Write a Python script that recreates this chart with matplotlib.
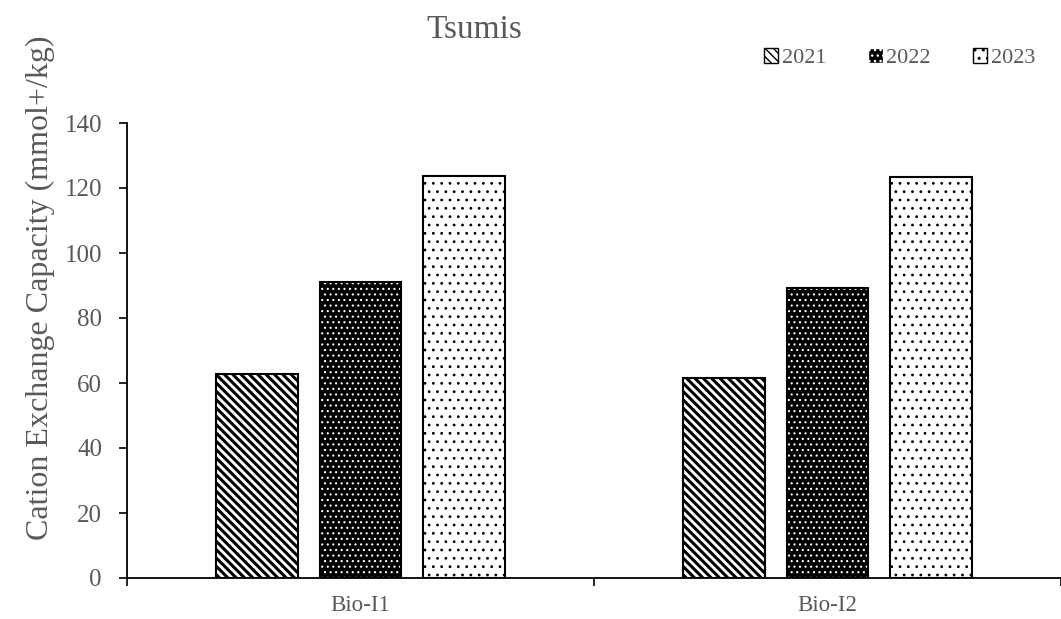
import matplotlib
matplotlib.use("Agg")
import matplotlib.pyplot as plt
import numpy as np
from matplotlib.patches import Patch

categories = ["Bio-I1", "Bio-I2"]
years = ["2021", "2022", "2023"]
values_2021 = [62.7, 61.5]
values_2022 = [91.0, 89.3]
values_2023 = [123.7, 123.3]
y_ticks = [0, 20, 40, 60, 80, 100, 120, 140]

plt.rcParams['font.family'] = ['Liberation Serif', 'DejaVu Serif']
GRAY = '#595959'

W, H = 1061, 619
fig = plt.figure(figsize=(W / 100, H / 100), dpi=100)
ax = fig.add_axes([127 / W, 1 - 578 / H, (W - 127) / W, (578 - 123) / H])

x = np.arange(len(categories))
bw = 0.175
off = 0.222

STRIPE = '\\\\\\\\'
DOT_W = '...'
DOT_B = '..'

# 2021: diagonal stripes
with plt.rc_context({'hatch.linewidth': 2.2}):
    ax.bar(x - off, values_2021, bw, facecolor='white', edgecolor='black', hatch=STRIPE, linewidth=0, zorder=2)
ax.bar(x - off, values_2021, bw, facecolor='none', edgecolor='black', linewidth=1.5, zorder=3)
# 2022: black with white dots
with plt.rc_context({'hatch.linewidth': 0.8}):
    ax.bar(x, values_2022, bw, facecolor='black', edgecolor='white', hatch=DOT_W, linewidth=0, zorder=2)
ax.bar(x, values_2022, bw, facecolor='none', edgecolor='black', linewidth=1.5, zorder=3)
# 2023: white with black dots
with plt.rc_context({'hatch.linewidth': 0.8}):
    ax.bar(x + off, values_2023, bw, facecolor='white', edgecolor='black', hatch=DOT_B, linewidth=0, zorder=2)
ax.bar(x + off, values_2023, bw, facecolor='none', edgecolor='black', linewidth=1.5, zorder=3)

ax.set_xlim(-0.5, 1.5)
ax.set_ylim(0, 140)
ax.set_yticks(y_ticks)
ax.set_yticklabels([str(v) for v in y_ticks])
ax.set_xticks([-0.5, 0.5, 1.5])
ax.set_xticklabels(['', '', ''])
ax.set_xticks(x, minor=True)
ax.set_xticklabels(categories, minor=True)
ax.tick_params(axis='x', which='major', direction='out', length=6, width=1.2, color='black')
ax.tick_params(axis='x', which='minor', length=0, pad=12, labelsize=16.5, labelcolor=GRAY)
ax.tick_params(axis='y', direction='out', length=6, width=1.2, color='black', labelsize=18, labelcolor=GRAY, pad=12)
for s in ['top', 'right']:
    ax.spines[s].set_visible(False)
for s in ['left', 'bottom']:
    ax.spines[s].set_linewidth(1.3)
    ax.spines[s].set_color('black')
ax.patch.set_visible(False)

fig.text(40 / W, 1 - 288 / H, 'Cation Exchange Capacity (mmol+/kg)', rotation=90,
         ha='center', va='center', fontsize=23, color=GRAY)
fig.text(474 / W, 1 - 30 / H, 'Tsumis', ha='center', va='center', fontsize=24, color=GRAY)

with plt.rc_context({'hatch.linewidth': 1.2}):
    handles = [
        Patch(facecolor='white', edgecolor='black', hatch=STRIPE, label=years[0]),
        Patch(facecolor='black', edgecolor='white', hatch=DOT_W, label=years[1]),
        Patch(facecolor='white', edgecolor='black', hatch=DOT_B, label=years[2]),
    ]
leg = fig.legend(handles=handles, loc='center right', bbox_to_anchor=(1055 / W, 1 - 58 / H), ncol=3,
                 frameon=False, fontsize=16, handlelength=0.65, handleheight=0.65,
                 handletextpad=0.15, columnspacing=1.9, labelcolor=GRAY)

fig.savefig('out.png', dpi=100)
